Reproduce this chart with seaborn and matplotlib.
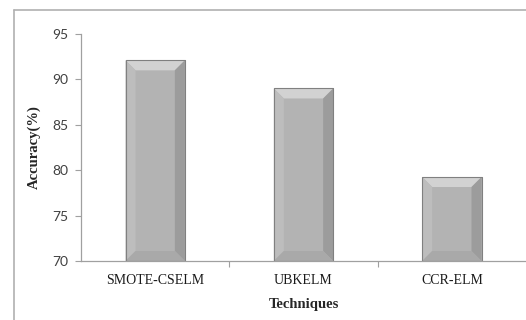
import numpy as np
import pandas as pd
import matplotlib.pyplot as plt
import seaborn as sns
from matplotlib.patches import Polygon, Rectangle

techniques = ['SMOTE-CSELM', 'UBKELM', 'CCR-ELM']
accuracy = [92.1, 89.0, 79.25]
y_ticks = [70, 75, 80, 85, 90, 95]

df = pd.DataFrame({'Techniques': techniques, 'Accuracy': accuracy})

sns.set_style('white')
fig = plt.figure(figsize=(5.26, 3.2), dpi=100)
ax = fig.add_axes([81 / 526, 1 - 261 / 320, 1 - 81 / 526, (261 - 34) / 320])

sns.barplot(data=df, x='Techniques', y='Accuracy', color='#b3b3b3', width=0.4,
            saturation=1, edgecolor='#8a8a8a', linewidth=0.6, ax=ax)

ax.set_ylim(70, 95)
ax.set_xlim(-0.5, 2.5)
ax.set_yticks(y_ticks)
ax.set_yticklabels([str(t) for t in y_ticks], fontfamily='Lato', fontsize=10, color='#404040')
ax.set_xticks(range(len(techniques)))
ax.set_xticklabels(techniques, fontfamily='Liberation Serif', fontsize=10, color='#1a1a1a')
ax.tick_params(axis='x', length=0, pad=9)
ax.tick_params(axis='y', length=4, width=0.8, color='#a0a0a0', pad=5, left=True)
# category boundary ticks on x axis
ax.set_xticks([0.5, 1.5], minor=True)
ax.tick_params(axis='x', which='minor', length=4, width=0.8, color='#a0a0a0', bottom=True)

for side in ['top', 'right']:
    ax.spines[side].set_visible(False)
for side in ['left', 'bottom']:
    ax.spines[side].set_color('#a0a0a0')
    ax.spines[side].set_linewidth(0.9)

ax.set_xlabel('Techniques', fontfamily='Liberation Serif', fontweight='bold', fontsize=10.5, labelpad=8)
ax.set_ylabel('Accuracy(%)', fontfamily='Liberation Serif', fontweight='bold', fontsize=10.5, labelpad=8)

# bevel look on the bars, in pixel units derived from each bar's visible extent
fig.canvas.draw()
inv = ax.transData.inverted()
ymin = ax.get_ylim()[0]
bev = 10
for p in ax.patches[:len(techniques)]:
    base = max(p.get_y(), ymin)
    x0, y0 = ax.transData.transform((p.get_x(), base))
    x1, y1 = ax.transData.transform((p.get_x() + p.get_width(), p.get_y() + p.get_height()))
    outer = [(x0, y0), (x1, y0), (x1, y1), (x0, y1)]
    inner = [(x0 + bev, y0 + bev), (x1 - bev, y0 + bev), (x1 - bev, y1 - bev), (x0 + bev, y1 - bev)]
    sides = [
        ([outer[3], outer[2], inner[2], inner[3]], '#d2d2d2'),  # top
        ([outer[0], outer[3], inner[3], inner[0]], '#bdbdbd'),  # left
        ([outer[1], outer[2], inner[2], inner[1]], '#9c9c9c'),  # right
        ([outer[0], outer[1], inner[1], inner[0]], '#a9a9a9'),  # bottom
    ]
    for pts, c in sides:
        ax.add_patch(Polygon(inv.transform(pts), closed=True, facecolor=c, edgecolor='none',
                             zorder=p.get_zorder() + 0.1))
    ax.add_patch(Rectangle((p.get_x(), base), p.get_width(), p.get_y() + p.get_height() - base,
                           fill=False, edgecolor='#808080', linewidth=0.8, zorder=p.get_zorder() + 0.2))

# outer chart frame
fig.add_artist(plt.Line2D([14 / 526, 1], [1 - 10 / 320] * 2, color='#b0b0b0', lw=1.2, transform=fig.transFigure))
fig.add_artist(plt.Line2D([14 / 526] * 2, [0, 1 - 10 / 320], color='#b0b0b0', lw=1.2, transform=fig.transFigure))

fig.savefig('out.png', dpi=100)
